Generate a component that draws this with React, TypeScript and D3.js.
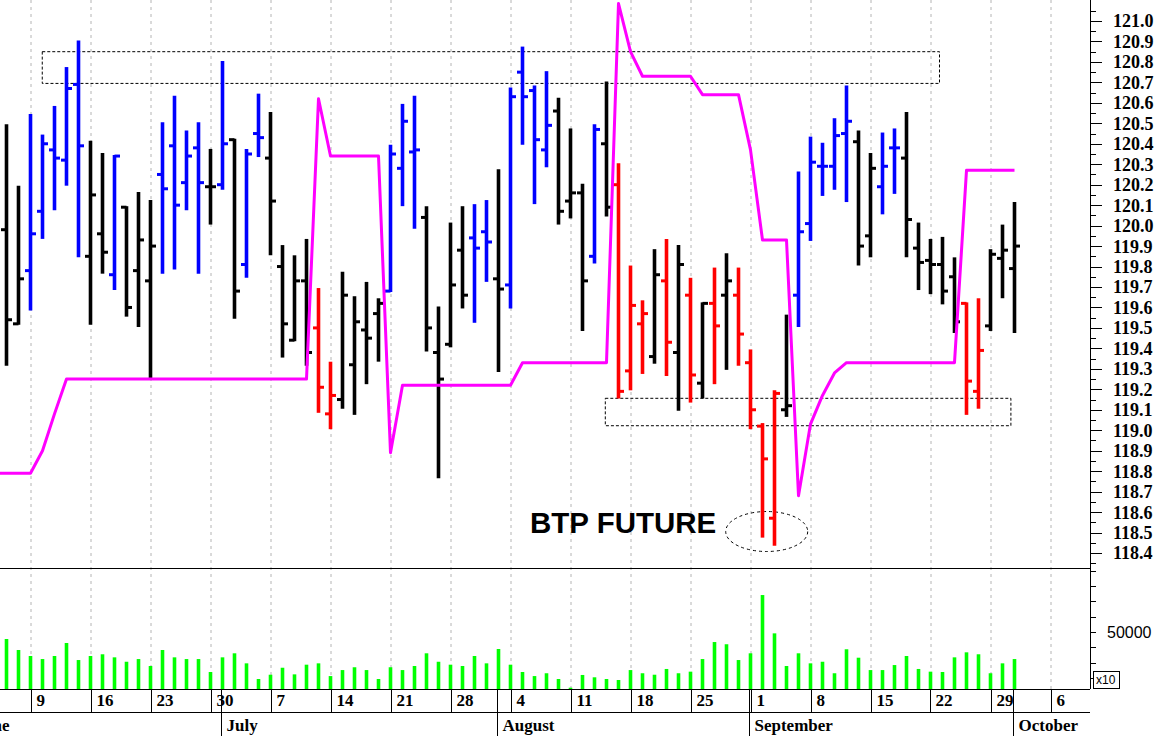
import React from "react";
import * as d3 from "d3";

// ---------- DATA ----------
const dates = [
  "2014-06-04","2014-06-05","2014-06-06",
  "2014-06-09","2014-06-10","2014-06-11","2014-06-12","2014-06-13",
  "2014-06-16","2014-06-17","2014-06-18","2014-06-19","2014-06-20",
  "2014-06-23","2014-06-24","2014-06-25","2014-06-26","2014-06-27",
  "2014-06-30","2014-07-01","2014-07-02","2014-07-03","2014-07-04",
  "2014-07-07","2014-07-08","2014-07-09","2014-07-10","2014-07-11",
  "2014-07-14","2014-07-15","2014-07-16","2014-07-17","2014-07-18",
  "2014-07-21","2014-07-22","2014-07-23","2014-07-24","2014-07-25",
  "2014-07-28","2014-07-29","2014-07-30","2014-07-31","2014-08-01",
  "2014-08-04","2014-08-05","2014-08-06","2014-08-07","2014-08-08",
  "2014-08-11","2014-08-12","2014-08-13","2014-08-14","2014-08-15",
  "2014-08-18","2014-08-19","2014-08-20","2014-08-21","2014-08-22",
  "2014-08-25","2014-08-26","2014-08-27","2014-08-28","2014-08-29",
  "2014-09-01","2014-09-02","2014-09-03","2014-09-04","2014-09-05",
  "2014-09-08","2014-09-09","2014-09-10","2014-09-11","2014-09-12",
  "2014-09-15","2014-09-16","2014-09-17","2014-09-18","2014-09-19",
  "2014-09-22","2014-09-23","2014-09-24","2014-09-25","2014-09-26",
  "2014-09-29","2014-09-30","2014-10-01",
];

// B = blue, K = black, R = red
const trend = [
  "B","K","K",
  "B","B","B","B","B",
  "K","K","B","K","K",
  "K","B","B","B","B",
  "K","B","K","B","B",
  "K","K","K","K","R",
  "R","K","K","K","K",
  "B","B","B","K","K",
  "K","K","B","B","K",
  "B","B","B","B","K",
  "K","K","B","K","R",
  "R","R","K","R","K",
  "R","K","R","K","R",
  "R","R","R","K","B",
  "B","B","B","B","K",
  "K","B","B","K","K",
  "K","K","K","R","R",
  "K","K","K",
];

const opens = [
  119.80,119.98,119.52,
  119.78,120.07,120.37,120.32,120.69,
  119.85,119.96,119.76,120.09,119.78,
  119.73,120.25,120.39,120.21,120.38,
  120.19,120.20,120.42,119.81,120.45,
  120.33,119.80,119.44,119.73,119.50,
  119.08,119.15,119.32,119.49,119.57,
  119.68,120.28,120.36,120.04,119.38,
  119.42,119.88,119.94,119.97,119.74,
  119.71,120.75,120.66,120.37,120.56,
  120.12,120.16,119.85,120.40,120.20,
  119.29,119.52,119.36,119.73,119.38,
  119.66,119.23,119.62,119.66,119.66,
  119.33,119.02,118.57,119.10,119.66,
  120.01,120.29,120.29,120.45,120.41,
  119.95,120.19,120.38,120.33,119.89,
  119.83,119.81,119.75,119.62,119.19,
  119.51,119.84,119.79,
];

const highs = [
  120.25,120.49,120.19,
  120.54,120.44,120.58,120.77,120.90,
  120.41,120.35,120.34,120.09,120.16,
  120.12,120.50,120.63,120.46,120.50,
  120.37,120.80,120.42,120.37,120.64,
  120.55,119.90,119.85,119.93,119.69,
  119.33,119.77,119.65,119.72,119.64,
  120.39,120.59,120.63,120.09,119.60,
  120.01,120.09,120.10,120.12,120.27,
  120.67,120.87,120.68,120.75,120.62,
  120.47,120.20,120.49,120.70,120.30,
  119.80,119.63,119.88,119.93,119.90,
  119.74,119.62,119.79,119.86,119.79,
  119.39,119.03,119.19,119.56,120.26,
  120.43,120.40,120.52,120.68,120.46,
  120.35,120.45,120.47,120.55,120.01,
  119.93,119.94,119.84,119.62,119.64,
  119.88,120.00,120.11,
];

const lows = [
  119.60,119.32,119.52,
  119.59,119.94,120.08,120.20,119.85,
  119.52,119.77,119.69,119.56,119.51,
  119.26,119.77,119.79,120.08,119.77,
  120.01,120.18,119.55,119.75,120.34,
  119.86,119.36,119.44,119.32,119.09,
  119.01,119.11,119.08,119.23,119.34,
  119.68,120.10,119.99,119.39,118.77,
  119.41,119.60,119.53,119.73,119.29,
  119.60,120.40,120.11,120.29,120.01,
  120.04,119.49,119.82,120.05,119.16,
  119.20,119.28,119.33,119.27,119.10,
  119.14,119.16,119.23,119.30,119.32,
  119.01,118.48,118.44,119.07,119.51,
  119.93,120.15,120.18,120.12,119.81,
  119.85,120.06,120.16,119.85,119.69,
  119.67,119.62,119.48,119.08,119.11,
  119.49,119.65,119.48,
];

const closes = [
  119.87,119.54,119.74,
  119.96,120.40,120.33,120.67,120.39,
  120.15,119.87,120.34,119.60,119.93,
  119.90,120.18,120.10,120.34,120.21,
  120.19,120.40,119.68,120.35,120.43,
  120.12,119.52,119.73,119.38,119.21,
  119.17,119.66,119.53,119.45,119.62,
  120.35,120.51,120.37,119.50,119.25,
  119.71,119.66,119.89,119.92,119.69,
  120.63,120.63,120.42,120.49,120.07,
  120.16,119.73,120.47,120.09,119.19,
  119.61,119.57,119.76,119.43,119.81,
  119.27,119.62,119.51,119.73,119.47,
  119.10,118.86,119.18,119.12,119.97,
  120.31,120.29,120.44,120.51,119.90,
  120.28,120.29,120.38,120.03,119.82,
  119.81,119.68,119.53,119.24,119.39,
  119.86,119.88,119.90,
];

// magenta stop line
const stopLine = [
  118.79,118.79,118.79,
  118.79,118.90,119.08,119.25,119.25,
  119.25,119.25,119.25,119.25,119.25,
  119.25,119.25,119.25,119.25,119.25,
  119.25,119.25,119.25,119.25,119.25,
  119.25,119.25,119.25,119.25,120.62,
  120.34,120.34,120.34,120.34,120.34,
  118.89,119.22,119.22,119.22,119.22,
  119.22,119.22,119.22,119.22,119.22,
  119.22,119.33,119.33,119.33,119.33,
  119.33,119.33,119.33,119.33,121.085,
  120.85,120.73,120.73,120.73,120.73,
  120.73,120.64,120.64,120.64,120.64,
  120.37,119.93,119.93,119.93,118.68,
  119.03,119.17,119.28,119.33,119.33,
  119.33,119.33,119.33,119.33,119.33,
  119.33,119.33,119.33,120.27,120.27,
  120.27,120.27,120.27,
];

const volumes = [
  null,44300,35300,
  30400,27900,30400,41000,27100,
  30400,31800,29300,25700,27900,
  22200,35300,29300,27900,27900,
  17300,29300,32600,24400,11600,
  15100,20800,15400,23300,24400,
  14000,18900,21200,18900,11600,
  21200,18900,22200,32600,25700,
  23300,22200,30400,24400,36100,
  23300,17300,14000,16300,11600,
  4500,14900,13000,11600,10800,
  18900,16300,15100,19800,16300,
  17600,27900,41800,40000,27100,
  32600,80200,48900,22200,32600,
  24400,25700,16300,35900,29000,
  18900,18900,23000,30400,19800,
  17600,17300,29300,33400,31800,
  16300,24400,27900,
];

const priceTickLabels = [
  "118.4","118.5","118.6","118.7","118.8","118.9","119.0","119.1","119.2",
  "119.3","119.4","119.5","119.6","119.7","119.8","119.9","120.0","120.1",
  "120.2","120.3","120.4","120.5","120.6","120.7","120.8","120.9","121.0",
];
const volumeTicks = [12500, 25000, 37500, 50000, 62500, 75000, 87500, 100000];
const volumeTickLabels = ["", "", "", "50000", "", "", "", ""];

const weekStarts = [
  "2014-06-09","2014-06-16","2014-06-23","2014-06-30","2014-07-07","2014-07-14",
  "2014-07-21","2014-07-28","2014-08-04","2014-08-11","2014-08-18","2014-08-25",
  "2014-09-01","2014-09-08","2014-09-15","2014-09-22","2014-09-29","2014-10-06",
];
const monthStarts = ["2014-06-02","2014-07-01","2014-08-01","2014-09-01","2014-10-01"];
const monthNames = ["June","July","August","September","October"];

// annotations (trading-day index, price)
const upperBox = { i0: 3.98, i1: 78.75, p0: 120.695, p1: 120.85 };
const lowerBox = { i0: 50.9, i1: 84.7, p0: 119.022, p1: 119.156 };
const lowEllipse = { i: 64.35, p: 118.505, rx: 41, ry: 20 };
const titleText = "BTP FUTURE";

// ---------- HELPERS ----------
function tradingIndex(s: string): number {
  const d0 = new Date(dates[0] + "T00:00:00Z");
  const d = new Date(s + "T00:00:00Z");
  const c = new Date(d0);
  let n = 0;
  if (d >= d0) {
    while (c < d) {
      c.setUTCDate(c.getUTCDate() + 1);
      const w = c.getUTCDay();
      if (w !== 0 && w !== 6) n++;
    }
  } else {
    while (c > d) {
      c.setUTCDate(c.getUTCDate() - 1);
      const w = c.getUTCDay();
      if (w !== 0 && w !== 6) n--;
    }
  }
  return n;
}

const colorOf: Record<string, string> = { B: "#0000ff", K: "#000000", R: "#ff0000" };

export default function App() {
  const W = 1161, H = 736;
  const plotRight = 1090;
  const mainBottom = 568;
  const volBottom = 689;
  const dayRowBottom = 712.5;

  const x = d3.scaleLinear().domain([0, dates.length - 1]).range([-5.5, -5.5 + 12 * (dates.length - 1)]);
  const y = d3.scaleLinear().domain([118.4, 121.0]).range([553, 21]);
  const yv = d3.scaleLinear().domain([0, 100000]).range([693.2, 570.8]);

  const priceVals = priceTickLabels.map((s) => +s);
  const minorVals = priceVals.map((v) => v + 0.05).concat([118.35]);

  const stopPath = d3
    .line<number>()
    .x((_, i) => x(i))
    .y((d) => y(d))(stopLine) as string;

  const serif = "'Liberation Serif', 'Times New Roman', serif";
  const sans = "'Liberation Sans', Arial, sans-serif";

  return (
    <svg
      width={W}
      height={H}
      style={{ position: "fixed", left: 0, top: 0, background: "#fff" }}
      xmlns="http://www.w3.org/2000/svg"
    >
      <defs>
        <clipPath id="mainClip">
          <rect x={0} y={0} width={plotRight} height={mainBottom} />
        </clipPath>
        <clipPath id="volClip">
          <rect x={0} y={mainBottom} width={plotRight} height={volBottom - mainBottom} />
        </clipPath>
      </defs>
      <rect x={0} y={0} width={W} height={H} fill="#fff" />

      {/* vertical dashed grid lines */}
      {weekStarts.map((d) => {
        const gx = x(tradingIndex(d)) + 0.5;
        return (
          <line key={"g" + d} x1={gx} x2={gx} y1={0} y2={volBottom} stroke="#b4b4b4" strokeWidth={1} strokeDasharray="3,4" />
        );
      })}

      {/* main panel */}
      <g clipPath="url(#mainClip)">
        {/* dashed annotation boxes */}
        <rect
          x={x(upperBox.i0)}
          y={y(upperBox.p1)}
          width={x(upperBox.i1) - x(upperBox.i0)}
          height={y(upperBox.p0) - y(upperBox.p1)}
          fill="none"
          stroke="#000"
          strokeWidth={1}
          strokeDasharray="3,2"
        />
        <rect
          x={x(lowerBox.i0)}
          y={y(lowerBox.p1)}
          width={x(lowerBox.i1) - x(lowerBox.i0)}
          height={y(lowerBox.p0) - y(lowerBox.p1)}
          fill="none"
          stroke="#000"
          strokeWidth={1}
          strokeDasharray="3,2"
        />
        <ellipse
          cx={x(lowEllipse.i)}
          cy={y(lowEllipse.p)}
          rx={lowEllipse.rx}
          ry={lowEllipse.ry}
          fill="none"
          stroke="#000"
          strokeWidth={1}
          strokeDasharray="3,3"
        />

        {/* OHLC bars */}
        {dates.map((d, i) => {
          const c = colorOf[trend[i]];
          const bx = x(i);
          return (
            <g key={"b" + d} stroke={c}>
              <line x1={bx} x2={bx} y1={y(highs[i]) - 1} y2={y(lows[i]) + 1} strokeWidth={3.6} />
              <line x1={bx - 5.5} x2={bx} y1={y(opens[i])} y2={y(opens[i])} strokeWidth={3} />
              <line x1={bx} x2={bx + 5.5} y1={y(closes[i])} y2={y(closes[i])} strokeWidth={3} />
            </g>
          );
        })}

        {/* magenta stop line */}
        <path d={stopPath} fill="none" stroke="#ff00ff" strokeWidth={3} strokeLinejoin="round" />

        <text x={530} y={533} fontFamily={sans} fontWeight="bold" fontSize={29.5} fill="#000">
          {titleText}
        </text>
      </g>

      {/* volume panel */}
      <g clipPath="url(#volClip)">
        {volumes.map((v, i) =>
          v == null ? null : (
            <line key={"v" + i} x1={x(i)} x2={x(i)} y1={volBottom} y2={yv(v)} stroke="#00ff00" strokeWidth={3.6} />
          )
        )}
      </g>

      {/* panel frame lines */}
      <line x1={0} x2={plotRight} y1={mainBottom + 0.5} y2={mainBottom + 0.5} stroke="#000" strokeWidth={1} />
      <line x1={plotRight + 0.5} x2={plotRight + 0.5} y1={0} y2={volBottom} stroke="#000" strokeWidth={1} />

      {/* price axis */}
      {priceVals.map((v, k) => (
        <g key={"pt" + k}>
          <line x1={plotRight} x2={plotRight + 12} y1={Math.round(y(v)) + 0.5} y2={Math.round(y(v)) + 0.5} stroke="#000" />
          <text x={1113} y={y(v)} dy="0.36em" fontFamily={serif} fontWeight="bold" fontSize={18} fill="#000">
            {priceTickLabels[k]}
          </text>
        </g>
      ))}
      {minorVals.map((v, k) => (
        <line key={"pm" + k} x1={plotRight} x2={plotRight + 6} y1={Math.round(y(v)) + 0.5} y2={Math.round(y(v)) + 0.5} stroke="#000" />
      ))}

      {/* volume axis */}
      {volumeTicks.map((v, k) => (
        <g key={"vt" + k}>
          <line x1={plotRight} x2={plotRight + 6} y1={Math.round(yv(v)) + 0.5} y2={Math.round(yv(v)) + 0.5} stroke="#000" />
          {volumeTickLabels[k] ? (
            <text x={1107} y={yv(v)} dy="0.36em" fontFamily={sans} fontSize={16} fill="#000">
              {volumeTickLabels[k]}
            </text>
          ) : null}
        </g>
      ))}
      <rect x={1093.5} y={671.5} width={26} height={17} fill="#fff" stroke="#000" strokeWidth={1} />
      <text x={1096} y={684} fontFamily={sans} fontSize={12} fill="#000">
        x10
      </text>

      {/* date axis */}
      <line x1={0} x2={plotRight} y1={volBottom + 0.5} y2={volBottom + 0.5} stroke="#000" />
      <line x1={0} x2={plotRight} y1={dayRowBottom} y2={dayRowBottom} stroke="#000" />
      {weekStarts.map((d) => {
        const gx = Math.round(x(tradingIndex(d))) + 0.5;
        return (
          <g key={"wd" + d}>
            <line x1={gx} x2={gx} y1={volBottom} y2={dayRowBottom} stroke="#000" />
            <text x={gx + 5} y={706} fontFamily={serif} fontWeight="bold" fontSize={17} fill="#000">
              {String(+d.slice(8, 10))}
            </text>
          </g>
        );
      })}
      {monthStarts.map((d, k) => {
        const mx = Math.round(x(tradingIndex(d)) - 1.5) + 0.5;
        return (
          <g key={"m" + d}>
            <line x1={mx} x2={mx} y1={volBottom} y2={H} stroke="#000" />
            <text x={mx + 5} y={731} fontFamily={serif} fontWeight="bold" fontSize={17} fill="#000">
              {monthNames[k]}
            </text>
          </g>
        );
      })}
    </svg>
  );
}
